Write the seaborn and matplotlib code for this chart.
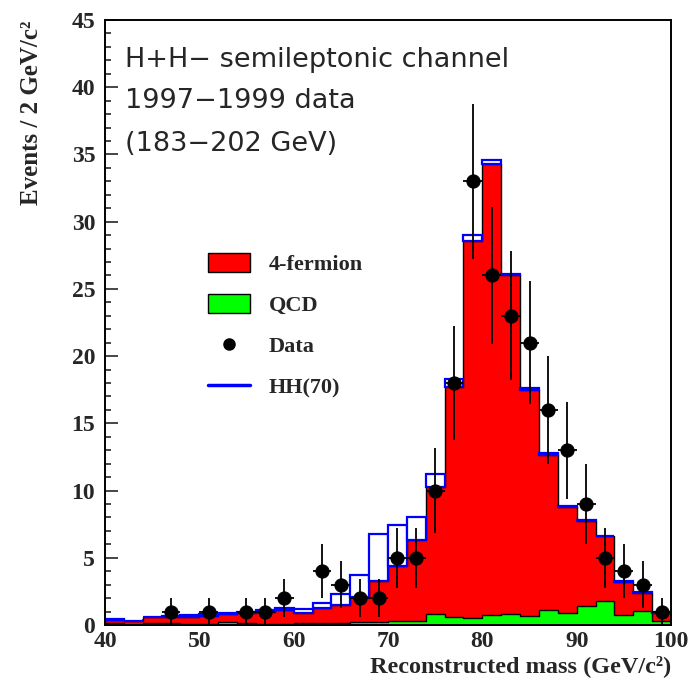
import numpy as np
import pandas as pd
import matplotlib
matplotlib.use("Agg")
import matplotlib.pyplot as plt
import seaborn as sns
from matplotlib.patches import Patch
from matplotlib.lines import Line2D

# 2 GeV bins from 40 to 100
bin_centers = np.arange(41, 100, 2)

qcd = [0.12, 0.0, 0.17, 0.12, 0.07, 0.05, 0.2, 0.12, 0.1, 0.1,
       0.12, 0.12, 0.18, 0.2, 0.25, 0.28, 0.32, 0.79, 0.62, 0.5,
       0.74, 0.79, 0.69, 1.12, 0.87, 1.41, 1.76, 0.74, 1.07, 0.27]
four_fermion = [0.25, 0.32, 0.43, 0.48, 0.56, 0.62, 0.62, 0.75, 0.89, 1.05,
                0.75, 1.12, 1.31, 1.91, 3.02, 4.11, 5.98, 9.46, 17.08, 28.1,
                33.56, 25.21, 16.81, 11.53, 7.88, 6.29, 4.84, 2.46, 1.33, 0.65]
hh70 = [0.10, 0.0, 0.02, 0.07, 0.11, 0.15, 0.10, 0.07, 0.13, 0.15,
        0.30, 0.42, 0.79, 1.63, 3.50, 3.05, 1.76, 0.95, 0.6, 0.4,
        0.3, 0.1, 0.1, 0.12, 0.1, 0.09, 0.05, 0.1, 0.08, 0.07]
data = [0, 0, 0, 1, 0, 1, 0, 1, 1, 2,
        0, 4, 3, 2, 2, 5, 5, 10, 18, 33,
        26, 23, 21, 16, 13, 9, 5, 4, 3, 1]

df = pd.DataFrame({"mass": bin_centers, "qcd": qcd, "four_f": four_fermion,
                   "hh": hh70, "data": data})
df["sm"] = df["qcd"] + df["four_f"]

sns.set_theme(style="ticks")
plt.rcParams['font.family'] = ['Liberation Serif', 'DejaVu Serif']
plt.rcParams['font.weight'] = 'bold'

fig = plt.figure(figsize=(6.95, 6.86), dpi=100)
ax = fig.add_axes([0.151, 0.0889, 0.8145, 0.8819])

# 4-fermion stacked on QCD (red), then QCD (green)
sns.histplot(data=df, x="mass", weights="sm", binwidth=2, binrange=(40, 100),
             element="step", fill=True, color="#ff0000", alpha=1,
             edgecolor="black", linewidth=1, ax=ax)
sns.histplot(data=df, x="mass", weights="qcd", binwidth=2, binrange=(40, 100),
             element="step", fill=True, color="#00ff00", alpha=1,
             edgecolor="black", linewidth=1, ax=ax)

# HH(70) signal stacked on top, drawn as open blue boxes
ax.bar(df["mass"], df["hh"], width=2, bottom=df["sm"], facecolor="white",
       edgecolor="#0000ff", linewidth=1.6, zorder=1.5)

# data points with Poisson errors
pts = df[df["data"] > 0]
ax.errorbar(pts["mass"], pts["data"], yerr=np.sqrt(pts["data"]), xerr=1,
            fmt="none", ecolor="black", elinewidth=1.3, capsize=0, zorder=3)
sns.scatterplot(data=pts, x="mass", y="data", color="black", s=90,
                edgecolor="black", ax=ax, zorder=4)

ax.set_xlim(40, 100)
ax.set_ylim(0, 45)
ax.set_xticks(np.arange(40, 101, 10))
ax.set_yticks(np.arange(0, 46, 5))
ax.set_xticks(np.arange(40, 101, 2), minor=True)
ax.set_yticks(np.arange(0, 46, 1), minor=True)
ax.set_axisbelow(True)
ax.tick_params(axis="both", which="both", direction="in", top=False, right=False,
               labelsize=17, width=1.2)
ax.tick_params(axis="both", which="major", length=9)
ax.tick_params(axis="both", which="minor", length=4.5)
ax.tick_params(axis="y", pad=7)
ax.tick_params(axis="x", pad=4)
for s in ax.spines.values():
    s.set_visible(True)
    s.set_linewidth(1.4)
    s.set_color("black")

ax.set_ylabel("Events / 2 GeV/c\u00b2", fontsize=18, fontweight="bold", loc="top")
ax.yaxis.set_label_coords(-0.11, 1.0)
ax.set_xlabel("Reconstructed mass (GeV/c\u00b2)", fontsize=17.5, fontweight="bold", loc="right")
ax.xaxis.set_label_coords(1.0, -0.05)

txt_kw = dict(transform=ax.transAxes, fontsize=19.5, fontweight="normal",
              family=["DejaVu Sans"], va="center", ha="left")
ax.text(0.035, 0.934, "H+H\u2212 semileptonic channel", **txt_kw)
ax.text(0.035, 0.866, "1997\u22121999 data", **txt_kw)
ax.text(0.035, 0.795, "(183\u2212202 GeV)", **txt_kw)

handles = [Patch(facecolor="#ff0000", edgecolor="black", linewidth=1),
           Patch(facecolor="#00ff00", edgecolor="black", linewidth=1),
           Line2D([], [], marker="o", color="black", linestyle="none", markersize=8),
           Line2D([], [], color="#0000ff", linewidth=2.5)]
labels = ["4-fermion", "QCD", "Data", "HH(70)"]
ax.legend(handles, labels, loc="upper left", bbox_to_anchor=(0.166, 0.63),
          frameon=False, prop={"size": 16, "weight": "bold"},
          handlelength=1.9, handleheight=0.95, labelspacing=0.85,
          handletextpad=0.85, borderaxespad=0)

fig.savefig("out.png", dpi=100)
